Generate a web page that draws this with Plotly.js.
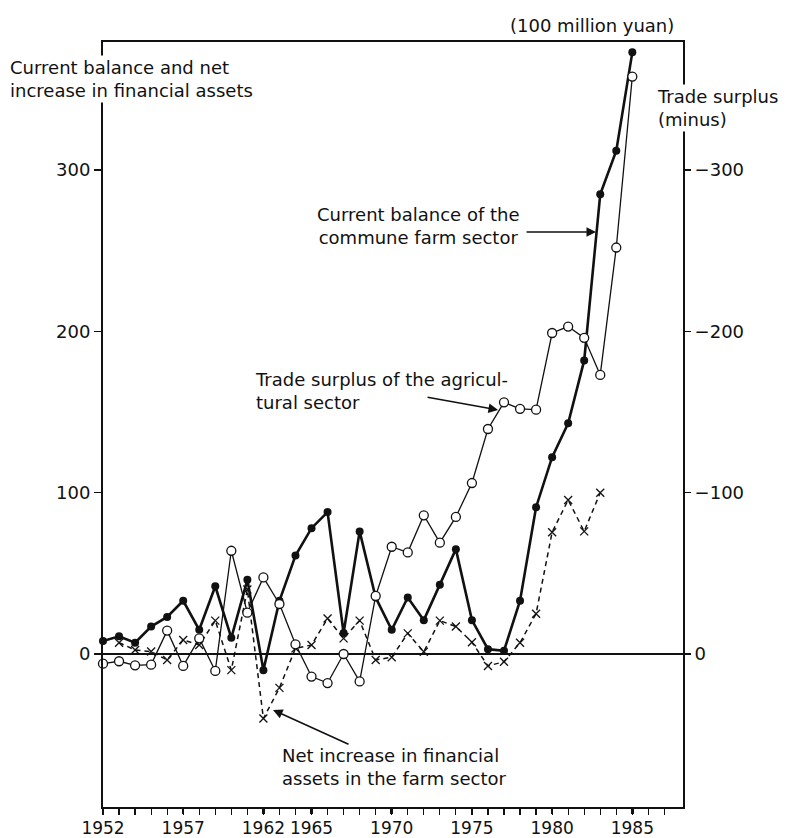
<!DOCTYPE html>
<html>
<head>
<meta charset="utf-8">
<script src="https://cdn.plot.ly/plotly-3.0.1.min.js"></script>
<style>html,body{margin:0;padding:0;background:#fff;}#chart{width:787px;height:838px;}</style>
</head>
<body>
<div id="chart"></div>
<script>
// Years
const years = [1952,1953,1954,1955,1956,1957,1958,1959,1960,1961,1962,1963,1964,1965,1966,1967,1968,1969,1970,1971,1972,1973,1974,1975,1976,1977,1978,1979,1980,1981,1982,1983,1984,1985];
// Current balance of the commune farm sector (100 million yuan)
const currentBalance = [8,11,7,17,23,33,15,42,10,46,-10,33,61,78,88,13,76,35,15,35,21,43,65,21,3,2,33,91,122,143,182,285,312,373];
// Trade surplus of the agricultural sector (plotted on the "minus" scale)
const tradeSurplus = [6,4.5,7,6.6,-14.5,7.4,-9.7,10.5,-64,-25.6,-47.5,-31,-6,14,18,0,17,-36,-66.5,-63,-86,-69,-85,-106,-139.5,-156,-152,-151.5,-199,-203,-196,-173,-252,-358];
// Net increase in financial assets in the farm sector
const netYears = [1953,1954,1955,1956,1957,1958,1959,1960,1961,1962,1963,1964,1965,1966,1967,1968,1969,1970,1971,1972,1973,1974,1975,1976,1977,1978,1979,1980,1981,1982,1983];
const netIncrease = [7,2.5,1.5,-3.7,8.7,5.6,20.7,-10,40,-40,-21,3.5,5.6,22,9.7,20.7,-3.7,-2,12.8,1.4,20.7,17,7.3,-7.4,-4.8,7,25,75.5,95.5,76,100];
// Axis ticks
const xTickVals = [1952,1957,1962,1965,1970,1975,1980,1985];
const xTickText = ["1952","1957","1962","1965","1970","1975","1980","1985"];
const minorYears = [];
for (let y = 1952; y <= 1987; y++) minorYears.push(y);
const yTickVals = [0,100,200,300];
const y2TickVals = [0,-100,-200,-300];

const INK = '#111';
const FONT = 'DejaVu Sans, Verdana, sans-serif';

// plot-area geometry (pixels)
const L = 103, R = 683, T = 42, B = 807;
const W = R - L, H = B - T;
const px = v => (v - L) / W;
const py = v => (B - v) / H;

const traces = [
  {
    x: netYears, y: netIncrease, type: 'scatter', mode: 'lines+markers',
    line: {color: INK, width: 1.5, dash: '5px,4px'},
    marker: {symbol: 'x-thin', size: 8, color: INK, line: {color: INK, width: 1.3}},
    cliponaxis: false, yaxis: 'y', showlegend: false
  },
  {
    x: years, y: currentBalance, type: 'scatter', mode: 'lines+markers',
    line: {color: INK, width: 2.6},
    marker: {symbol: 'circle', size: 8, color: INK},
    cliponaxis: false, yaxis: 'y', showlegend: false
  },
  {
    x: years, y: tradeSurplus, type: 'scatter', mode: 'lines+markers',
    line: {color: INK, width: 1.3},
    marker: {symbol: 'circle', size: 9, color: '#fff', line: {color: INK, width: 1.3}},
    cliponaxis: false, yaxis: 'y2', showlegend: false
  }
];

// zero at pixel 654, 1.613 px per unit
const yRange = [(654 - B) / 1.613, (654 - T) / 1.613];

const layout = {
  width: 787, height: 838,
  margin: {l: L, r: 787 - R, t: T, b: 838 - B, pad: 0},
  paper_bgcolor: '#fff', plot_bgcolor: '#fff',
  font: {family: FONT, size: 18, color: INK},
  showlegend: false,
  xaxis: {
    range: [1952, 1952 + W / 16.04], showgrid: false, zeroline: false,
    showline: true, linecolor: INK, linewidth: 2, mirror: true,
    tickmode: 'array', tickvals: xTickVals, ticktext: xTickText, tickangle: 0,
    ticks: 'outside', ticklen: 5, tickwidth: 2.5, tickcolor: INK,
    tickfont: {family: FONT, size: 17, color: INK},
    minor: {tickmode: 'array', tickvals: minorYears, ticks: 'outside', ticklen: 6, tickwidth: 1.2, tickcolor: INK, showgrid: false},
    automargin: false, fixedrange: true
  },
  yaxis: {
    range: yRange, showgrid: false,
    zeroline: true, zerolinecolor: INK, zerolinewidth: 1.6,
    showline: true, linecolor: INK, linewidth: 2,
    tickmode: 'array', tickvals: yTickVals,
    ticks: 'outside', ticklen: 7, tickwidth: 1.5, tickcolor: INK,
    tickfont: {family: FONT, size: 18, color: INK},
    automargin: false, fixedrange: true
  },
  yaxis2: {
    overlaying: 'y', side: 'right',
    range: [-yRange[0], -yRange[1]], showgrid: false, zeroline: false,
    showline: true, linecolor: INK, linewidth: 2,
    tickmode: 'array', tickvals: y2TickVals,
    ticks: 'outside', ticklen: 6, tickwidth: 1.5, tickcolor: INK,
    tickfont: {family: FONT, size: 18, color: INK},
    automargin: false, fixedrange: true
  },
  annotations: [
    {text: '(100 million yuan)', xref: 'paper', yref: 'paper', x: px(592), y: py(25),
     xanchor: 'center', yanchor: 'middle', showarrow: false, font: {size: 18}},
    {text: 'Current balance and net<br>increase in financial assets', xref: 'paper', yref: 'paper',
     x: px(8), y: py(79), xanchor: 'left', yanchor: 'middle', align: 'left',
     showarrow: false, bgcolor: '#fff', borderpad: 1, font: {size: 18}},
    {text: 'Trade surplus<br>(minus)', xref: 'paper', yref: 'paper',
     x: px(655), y: py(108), xanchor: 'left', yanchor: 'middle', align: 'left',
     showarrow: false, bgcolor: '#fff', borderpad: 1, font: {size: 18}},
    {text: 'Current balance of the<br>commune farm sector', xref: 'paper', yref: 'paper',
     x: px(418), y: py(226), xanchor: 'center', yanchor: 'middle', align: 'center',
     showarrow: false, font: {size: 18}},
    {text: 'Trade surplus of the agricul-<br>tural sector', xref: 'paper', yref: 'paper',
     x: px(253), y: py(391), xanchor: 'left', yanchor: 'middle', align: 'left',
     showarrow: false, font: {size: 18}},
    {text: 'Net increase in financial<br>assets in the farm sector', xref: 'paper', yref: 'paper',
     x: px(280), y: py(767), xanchor: 'left', yanchor: 'middle', align: 'left',
     showarrow: false, font: {size: 18}},
    // arrows
    {text: '', x: 1982.74, y: 261.6, xref: 'x', yref: 'y', showarrow: true, ax: -71, ay: 0,
     arrowhead: 2, arrowsize: 1.2, arrowwidth: 1.6, arrowcolor: INK, standoff: 0, startstandoff: 0},
    {text: '', x: 1976.63, y: 151.3, xref: 'x', yref: 'y', showarrow: true, ax: -72, ay: -13,
     arrowhead: 2, arrowsize: 1.2, arrowwidth: 1.6, arrowcolor: INK, standoff: 0, startstandoff: 0},
    {text: '', x: 1962.6, y: -34.7, xref: 'x', yref: 'y', showarrow: true, ax: 77, ay: 35,
     arrowhead: 2, arrowsize: 1.2, arrowwidth: 1.6, arrowcolor: INK, standoff: 0, startstandoff: 0}
  ]
};

Plotly.newPlot('chart', traces, layout, {displayModeBar: false, staticPlot: true});
</script>
</body>
</html>
